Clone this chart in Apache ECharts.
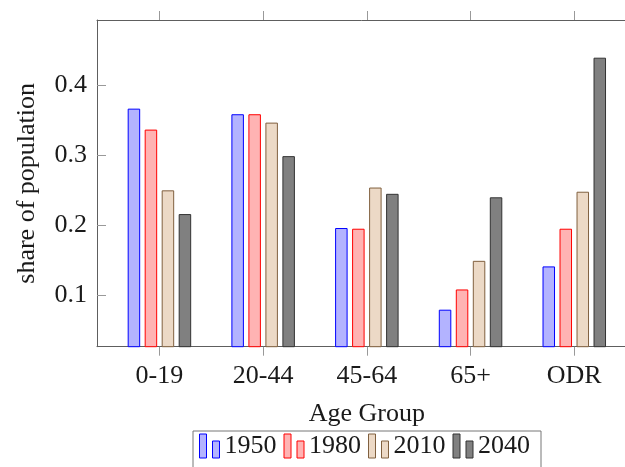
<!DOCTYPE html>
<html>
<head>
<meta charset="utf-8">
<script src="https://cdn.jsdelivr.net/npm/echarts@6/dist/echarts.min.js"></script>
<style>
html,body{margin:0;padding:0;background:#fff;}
#chart{width:625px;height:467px;}
</style>
</head>
<body>
<div id="chart"></div>
<script>
const categories = ['0-19', '20-44', '45-64', '65+', 'ODR'];
const years = ['1950', '1980', '2010', '2040'];
const v1950 = [0.367, 0.359, 0.196, 0.079, 0.141];
const v1980 = [0.337, 0.359, 0.195, 0.108, 0.195];
const v2010 = [0.250, 0.347, 0.254, 0.149, 0.248];
const v2040 = [0.216, 0.299, 0.245, 0.240, 0.440];
const yTicks = [0.1, 0.2, 0.3, 0.4];

const seriesValues = [v1950, v1980, v2010, v2040];
const fills = ['#b3b3ff', '#ffb3b3', '#ecd9c6', '#808080'];
const strokes = ['#0000ff', '#ff0000', '#80603f', '#333333'];
const catIdx = categories.map((c, i) => i);
const FONT = 'Liberation Serif';
const axisColor = '#5e5e5e';
const tickColor = '#999999';
const iconPath = 'path://M0,0H7V24H0Z M13,7H20V24H13Z';

const chart = echarts.init(document.getElementById('chart'), null, {renderer: 'canvas'});
const option = {
  animation: false,
  backgroundColor: '#ffffff',
  textStyle: {fontFamily: FONT},
  grid: {left: 97, width: 539.7, top: 20, bottom: 120.3, containLabel: false, outerBoundsMode: 'none'},
  legend: {
    show: true,
    selectedMode: false,
    left: 193,
    top: 431,
    orient: 'horizontal',
    padding: [2, 11, 12, 6],
    itemGap: 7,
    itemWidth: 20,
    itemHeight: 24,
    borderColor: '#777777',
    borderWidth: 1,
    textStyle: {fontFamily: FONT, fontSize: 26, color: '#1a1a1a', padding: [8, 0, 0, 0]},
    data: years.map((y, k) => ({
      name: y,
      icon: iconPath,
      itemStyle: {color: fills[k], borderColor: strokes[k], borderWidth: 1}
    }))
  },
  xAxis: [
    {
      type: 'value',
      position: 'bottom',
      min: -0.602,
      max: 4.602,
      name: 'Age Group',
      nameLocation: 'middle',
      nameGap: 54,
      nameTextStyle: {fontFamily: FONT, fontSize: 26, color: '#1a1a1a'},
      splitLine: {show: false},
      axisLine: {show: true, onZero: false, lineStyle: {color: axisColor, width: 1}},
      axisTick: {show: true, inside: false, length: 9, customValues: catIdx, lineStyle: {color: tickColor}},
      axisLabel: {
        show: true,
        customValues: catIdx,
        margin: 16,
        fontFamily: FONT,
        fontSize: 26,
        color: '#1a1a1a',
        formatter: v => categories[Math.round(v)]
      }
    },
    {
      type: 'value',
      position: 'top',
      min: -0.602,
      max: 4.602,
      splitLine: {show: false},
      axisLine: {show: true, onZero: false, lineStyle: {color: axisColor, width: 1}},
      axisTick: {show: true, inside: false, length: 9, customValues: catIdx, lineStyle: {color: tickColor}},
      axisLabel: {show: false}
    }
  ],
  yAxis: {
    type: 'value',
    min: 0.026,
    max: 0.494,
    name: 'share of population',
    nameLocation: 'middle',
    nameRotate: 90,
    nameGap: 57,
    nameTextStyle: {fontFamily: FONT, fontSize: 26, color: '#1a1a1a'},
    splitLine: {show: false},
    axisLine: {show: true, onZero: false, lineStyle: {color: axisColor, width: 1}},
    axisTick: {show: true, inside: true, length: 9, customValues: yTicks, lineStyle: {color: tickColor}},
    axisLabel: {
      show: true,
      customValues: yTicks,
      margin: 10,
      fontFamily: FONT,
      fontSize: 26,
      color: '#1a1a1a',
      formatter: v => v.toFixed(1)
    }
  },
  series: years.map((y, k) => ({
    name: y,
    type: 'bar',
    xAxisIndex: 0,
    barWidth: 12.5,
    barGap: '36%',
    itemStyle: {color: fills[k], borderColor: strokes[k], borderWidth: 1},
    emphasis: {disabled: true},
    data: seriesValues[k].map((v, i) => [catIdx[i], v])
  }))
};
chart.setOption(option);
</script>
</body>
</html>
